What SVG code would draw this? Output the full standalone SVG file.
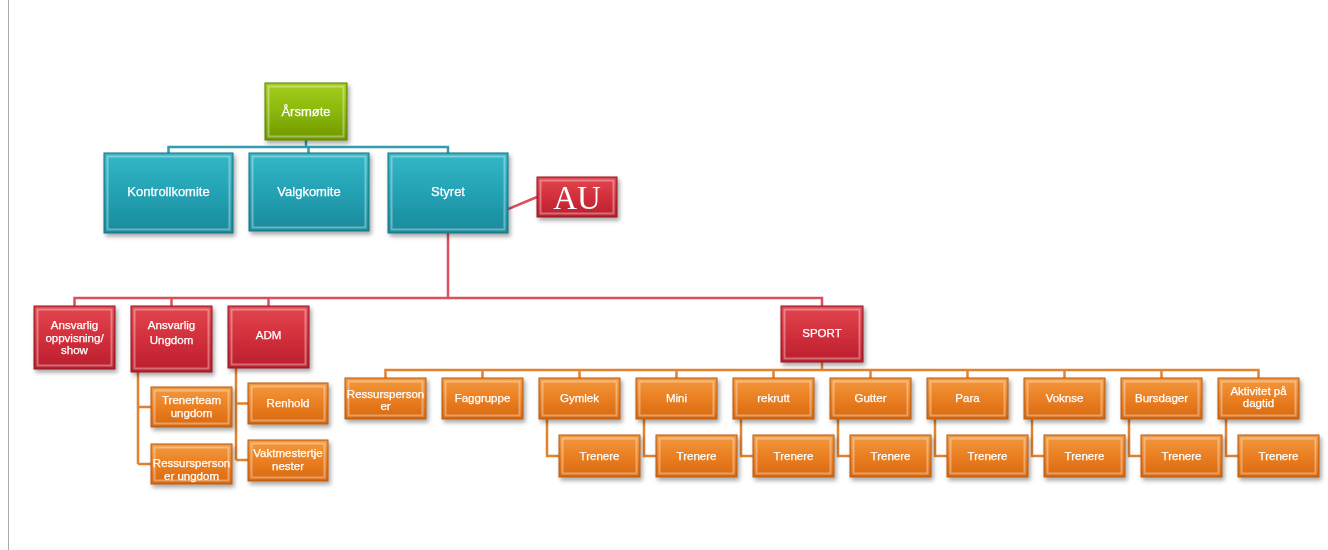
<svg xmlns="http://www.w3.org/2000/svg" width="1328" height="550" viewBox="0 0 1328 550">
<defs>
<linearGradient id="gO" x1="0" y1="0" x2="0" y2="1"><stop offset="0" stop-color="#f39a40"/><stop offset="0.5" stop-color="#ea7f22"/><stop offset="1" stop-color="#d8680f"/></linearGradient>
<linearGradient id="gR" x1="0" y1="0" x2="0" y2="1"><stop offset="0" stop-color="#e2474f"/><stop offset="0.5" stop-color="#d22f3c"/><stop offset="1" stop-color="#b91f2d"/></linearGradient>
<linearGradient id="gT" x1="0" y1="0" x2="0" y2="1"><stop offset="0" stop-color="#35b6c6"/><stop offset="0.5" stop-color="#23a2b4"/><stop offset="1" stop-color="#1a8a9b"/></linearGradient>
<linearGradient id="gG" x1="0" y1="0" x2="0" y2="1"><stop offset="0" stop-color="#a6cf1e"/><stop offset="0.5" stop-color="#8ab80a"/><stop offset="1" stop-color="#6e9800"/></linearGradient>
<filter id="sh" x="-20%" y="-20%" width="150%" height="160%"><feDropShadow dx="2" dy="3" stdDeviation="2" flood-color="#000" flood-opacity="0.35"/></filter>
<style>
.n{filter:url(#sh)}
.o{fill:url(#gO);stroke:#b45a10;stroke-width:1}
.r{fill:url(#gR);stroke:#8f1822;stroke-width:1}
.t{fill:url(#gT);stroke:#137282;stroke-width:1}
.g{fill:url(#gG);stroke:#5a7d00;stroke-width:1}
.hl{fill:none;stroke:#fff;stroke-opacity:0.35;stroke-width:2}
.tx{font-family:"Liberation Sans",Arial,sans-serif;font-size:11.5px;fill:#fff;text-anchor:middle;stroke:#fff;stroke-width:0.25}
.big{font-size:13px}
.au{font-family:"Liberation Serif","Times New Roman",serif;font-size:33px;fill:#fff;text-anchor:middle}
.ct{fill:none;stroke:#2f9fb0;stroke-width:2.5}
.cr{fill:none;stroke:#d9505c;stroke-width:2.5}
.co{fill:none;stroke:#e3812e;stroke-width:2.5}
</style>
</defs>
<rect width="1328" height="550" fill="#fff"/>
<line x1="8.5" y1="0" x2="8.5" y2="550" stroke="#aaa" stroke-width="1"/>
<g id="connectors">
<path class="ct" d="M306,140V147M168.5,153V147H448V153M308.5,147V153"/>
<path class="cr" d="M448,233V298M74.5,306V298H822V306M171.5,298V306M268.5,298V306M508,209L537,197"/>
<path class="co" d="M138,372V464M138,407H151M138,464H151M236,368V460M236,403.5H248M236,460H248"/>
<path class="co" d="M822,362V370M385.5,378V370H1258.5V378M482.5,370V378M579.5,370V378M676.5,370V378M773.5,370V378M870.5,370V378M967.5,370V378M1064.5,370V378M1161.5,370V378"/>
<path class="co" d="M547,419V456H559M644,419V456H656M741,419V456H753M838,419V456H850M935,419V456H947M1032,419V456H1044M1129,419V456H1141M1226,419V456H1238"/>
</g>
<g id="arsmote" class="n"><rect class="g" x="265" y="83" width="82" height="57"/><rect class="hl" x="268.5" y="86.5" width="75" height="50"/><text class="tx big" x="306" y="116">Årsmøte</text></g>
<g id="kontrollkomite" class="n"><rect class="t" x="104" y="153" width="129" height="80"/><rect class="hl" x="107.5" y="156.5" width="122" height="73"/><text class="tx big" x="168.5" y="196">Kontrollkomite</text></g>
<g id="valgkomite" class="n"><rect class="t" x="249" y="153" width="120" height="78"/><rect class="hl" x="252.5" y="156.5" width="113" height="71"/><text class="tx big" x="309" y="196">Valgkomite</text></g>
<g id="styret" class="n"><rect class="t" x="388" y="153" width="120" height="80"/><rect class="hl" x="391.5" y="156.5" width="113" height="73"/><text class="tx big" x="448" y="196">Styret</text></g>
<g id="au" class="n"><rect class="r" x="537" y="177" width="80" height="40"/><rect class="hl" x="540.5" y="180.5" width="73" height="33"/><text class="au" x="577" y="209">AU</text></g>
<g id="oppvisning" class="n"><rect class="r" x="34" y="306" width="81" height="63"/><rect class="hl" x="37.5" y="309.5" width="74" height="56"/><text class="tx" x="74.5" y="329">Ansvarlig</text><text class="tx" x="74.5" y="342">oppvisning/</text><text class="tx" x="74.5" y="354">show</text></g>
<g id="ungdom" class="n"><rect class="r" x="131" y="306" width="81" height="66"/><rect class="hl" x="134.5" y="309.5" width="74" height="59"/><text class="tx" x="171.5" y="329">Ansvarlig</text><text class="tx" x="171.5" y="344">Ungdom</text></g>
<g id="adm" class="n"><rect class="r" x="228" y="306" width="81" height="62"/><rect class="hl" x="231.5" y="309.5" width="74" height="55"/><text class="tx" x="268.5" y="339">ADM</text></g>
<g id="sport" class="n"><rect class="r" x="781" y="306" width="82" height="56"/><rect class="hl" x="784.5" y="309.5" width="75" height="49"/><text class="tx" x="822" y="337">SPORT</text></g>
<g id="trenerteam" class="n"><rect class="o" x="151" y="387" width="81" height="40"/><rect class="hl" x="154.5" y="390.5" width="74" height="33"/><text class="tx" x="191.5" y="404">Trenerteam</text><text class="tx" x="191.5" y="417">ungdom</text></g>
<g id="ressurs-ungdom" class="n"><rect class="o" x="151" y="444" width="81" height="40"/><rect class="hl" x="154.5" y="447.5" width="74" height="33"/><text class="tx" x="191.5" y="467">Ressursperson</text><text class="tx" x="191.5" y="480">er ungdom</text></g>
<g id="renhold" class="n"><rect class="o" x="248" y="383" width="80" height="41"/><rect class="hl" x="251.5" y="386.5" width="73" height="34"/><text class="tx" x="288" y="407">Renhold</text></g>
<g id="vaktmester" class="n"><rect class="o" x="248" y="440" width="80" height="41"/><rect class="hl" x="251.5" y="443.5" width="73" height="34"/><text class="tx" x="288" y="457">Vaktmestertje</text><text class="tx" x="288" y="470">nester</text></g>
<g id="ressurspersoner" class="n"><rect class="o" x="345" y="378" width="81" height="41"/><rect class="hl" x="348.5" y="381.5" width="74" height="34"/><text class="tx" x="385.5" y="398">Ressursperson</text><text class="tx" x="385.5" y="410">er</text></g>
<g id="faggruppe" class="n"><rect class="o" x="442" y="378" width="81" height="41"/><rect class="hl" x="445.5" y="381.5" width="74" height="34"/><text class="tx" x="482.5" y="402">Faggruppe</text></g>
<g id="gymlek" class="n"><rect class="o" x="539" y="378" width="81" height="41"/><rect class="hl" x="542.5" y="381.5" width="74" height="34"/><text class="tx" x="579.5" y="402">Gymlek</text></g>
<g id="mini" class="n"><rect class="o" x="636" y="378" width="81" height="41"/><rect class="hl" x="639.5" y="381.5" width="74" height="34"/><text class="tx" x="676.5" y="402">Mini</text></g>
<g id="rekrutt" class="n"><rect class="o" x="733" y="378" width="81" height="41"/><rect class="hl" x="736.5" y="381.5" width="74" height="34"/><text class="tx" x="773.5" y="402">rekrutt</text></g>
<g id="gutter" class="n"><rect class="o" x="830" y="378" width="81" height="41"/><rect class="hl" x="833.5" y="381.5" width="74" height="34"/><text class="tx" x="870.5" y="402">Gutter</text></g>
<g id="para" class="n"><rect class="o" x="927" y="378" width="81" height="41"/><rect class="hl" x="930.5" y="381.5" width="74" height="34"/><text class="tx" x="967.5" y="402">Para</text></g>
<g id="voksne" class="n"><rect class="o" x="1024" y="378" width="81" height="41"/><rect class="hl" x="1027.5" y="381.5" width="74" height="34"/><text class="tx" x="1064.5" y="402">Voknse</text></g>
<g id="bursdager" class="n"><rect class="o" x="1121" y="378" width="81" height="41"/><rect class="hl" x="1124.5" y="381.5" width="74" height="34"/><text class="tx" x="1161.5" y="402">Bursdager</text></g>
<g id="aktivitet" class="n"><rect class="o" x="1218" y="378" width="81" height="41"/><rect class="hl" x="1221.5" y="381.5" width="74" height="34"/><text class="tx" x="1258.5" y="395">Aktivitet på</text><text class="tx" x="1258.5" y="407">dagtid</text></g>
<g id="trenere-gymlek" class="n"><rect class="o" x="559" y="435" width="81" height="42"/><rect class="hl" x="562.5" y="438.5" width="74" height="35"/><text class="tx" x="599.5" y="460">Trenere</text></g>
<g id="trenere-mini" class="n"><rect class="o" x="656" y="435" width="81" height="42"/><rect class="hl" x="659.5" y="438.5" width="74" height="35"/><text class="tx" x="696.5" y="460">Trenere</text></g>
<g id="trenere-rekrutt" class="n"><rect class="o" x="753" y="435" width="81" height="42"/><rect class="hl" x="756.5" y="438.5" width="74" height="35"/><text class="tx" x="793.5" y="460">Trenere</text></g>
<g id="trenere-gutter" class="n"><rect class="o" x="850" y="435" width="81" height="42"/><rect class="hl" x="853.5" y="438.5" width="74" height="35"/><text class="tx" x="890.5" y="460">Trenere</text></g>
<g id="trenere-para" class="n"><rect class="o" x="947" y="435" width="81" height="42"/><rect class="hl" x="950.5" y="438.5" width="74" height="35"/><text class="tx" x="987.5" y="460">Trenere</text></g>
<g id="trenere-voksne" class="n"><rect class="o" x="1044" y="435" width="81" height="42"/><rect class="hl" x="1047.5" y="438.5" width="74" height="35"/><text class="tx" x="1084.5" y="460">Trenere</text></g>
<g id="trenere-bursdager" class="n"><rect class="o" x="1141" y="435" width="81" height="42"/><rect class="hl" x="1144.5" y="438.5" width="74" height="35"/><text class="tx" x="1181.5" y="460">Trenere</text></g>
<g id="trenere-aktivitet" class="n"><rect class="o" x="1238" y="435" width="81" height="42"/><rect class="hl" x="1241.5" y="438.5" width="74" height="35"/><text class="tx" x="1278.5" y="460">Trenere</text></g>
</svg>
